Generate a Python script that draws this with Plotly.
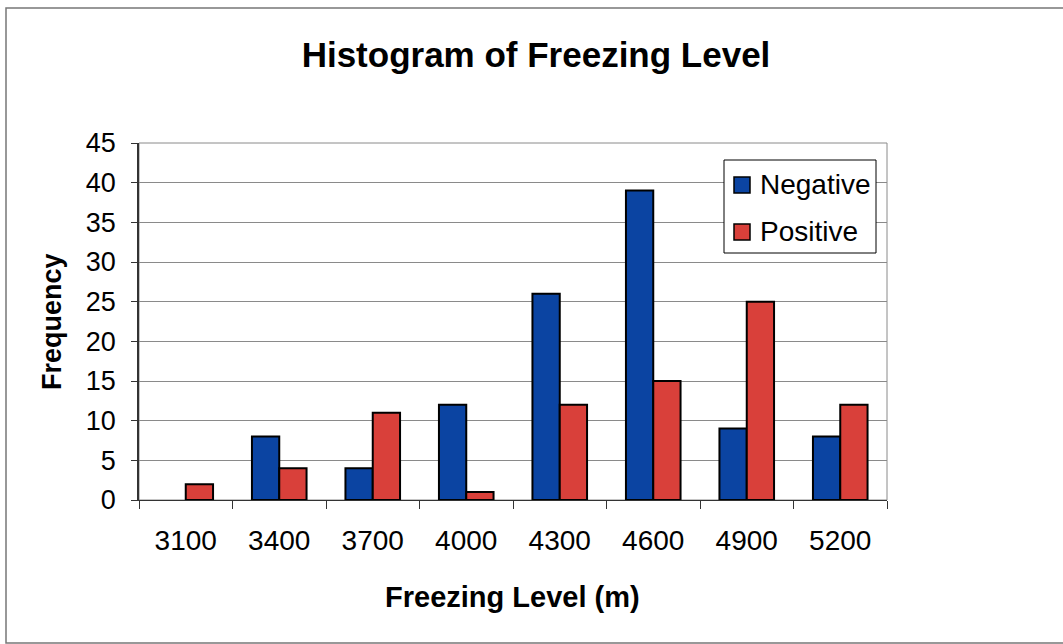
import plotly.graph_objects as go

categories = ["3100", "3400", "3700", "4000", "4300", "4600", "4900", "5200"]
negative = [0, 8, 4, 12, 26, 39, 9, 8]
positive = [2, 4, 11, 1, 12, 15, 25, 12]
y_ticks = [0, 5, 10, 15, 20, 25, 30, 35, 40, 45]
series_names = ["Negative", "Positive"]
series_colors = ["#0B44A2", "#D9403A"]

FONT = "Arial, 'Liberation Sans', sans-serif"
W, H = 1063, 644
L, R, T, B = 139, 176, 143, 144
pw, ph = W - L - R, H - T - B

def px_x(x):
    return (x - L) / pw

def px_y(y):
    return (H - B - y) / ph

def shown(values):
    # zero-height bars are not drawn (no outline stub)
    return [None if v == 0 else v for v in values]

fig = go.Figure()
for name, vals, col in zip(series_names, [negative, positive], series_colors):
    fig.add_trace(go.Bar(name=name, x=categories, y=shown(vals),
                         marker=dict(color=col, line=dict(color="black", width=2))))

fig.update_layout(
    width=W, height=H,
    margin=dict(l=L, r=R, t=T, b=B),
    paper_bgcolor="white", plot_bgcolor="white",
    barmode="group", bargap=0.416, bargroupgap=0,
    font=dict(family=FONT, color="black"),
    title=dict(text="<b>Histogram of Freezing Level</b>", font=dict(size=35, family=FONT),
               x=536 / W, xanchor="center", xref="container",
               y=1 - 55 / H, yanchor="middle", yref="container"),
    showlegend=False,
)

fig.update_xaxes(type="category", range=[-0.5, 7.5], tickson="boundaries",
                 ticks="outside", ticklen=8, tickcolor="#333", tickwidth=1,
                 showline=True, linecolor="#333", linewidth=1,
                 showgrid=False, tickfont=dict(size=28, family=FONT),
                 ticklabelstandoff=15)
fig.update_yaxes(range=[0, 45], tickvals=y_ticks, ticks="outside", ticklen=6,
                 tickcolor="#333", tickwidth=1,
                 showline=True, linecolor="#333", linewidth=1.5,
                 showgrid=True, gridcolor="#8a8a8a", gridwidth=1,
                 zeroline=False, tickfont=dict(size=27, family=FONT),
                 ticklabelstandoff=10)

# plot-area border (gray) and outer chart frame
fig.add_shape(type="rect", xref="paper", yref="paper", x0=0, x1=1, y0=0, y1=1,
              line=dict(color="#8a8a8a", width=1), layer="below")
fig.add_shape(type="rect", xref="paper", yref="paper",
              x0=px_x(6), x1=px_x(1075), y0=px_y(643), y1=px_y(8),
              line=dict(color="#777", width=1.5), layer="below")

# legend box (Excel-style)
fig.add_shape(type="rect", xref="paper", yref="paper",
              x0=px_x(724), x1=px_x(876), y0=px_y(253), y1=px_y(160),
              line=dict(color="black", width=1), fillcolor="white", layer="above")
for i, (name, col) in enumerate(zip(series_names, series_colors)):
    cy = 185 + i * 47
    fig.add_shape(type="rect", xref="paper", yref="paper",
                  x0=px_x(734), x1=px_x(750), y0=px_y(cy + 8), y1=px_y(cy - 8),
                  line=dict(color="black", width=1.5), fillcolor=col, layer="above")
    fig.add_annotation(text=name, xref="paper", yref="paper",
                       x=px_x(758), y=px_y(cy - 1), xanchor="left", yanchor="middle",
                       showarrow=False, font=dict(size=28, family=FONT))

fig.add_annotation(text="<b>Freezing Level (m)</b>", xref="paper", yref="paper",
                   x=px_x(512), y=px_y(597), xanchor="center", yanchor="middle",
                   showarrow=False, font=dict(size=29, family=FONT))
fig.add_annotation(text="<b>Frequency</b>", xref="paper", yref="paper",
                   x=px_x(52), y=px_y(322), xanchor="center", yanchor="middle",
                   textangle=-90, showarrow=False, font=dict(size=27, family=FONT))

fig.write_html("out.html")
